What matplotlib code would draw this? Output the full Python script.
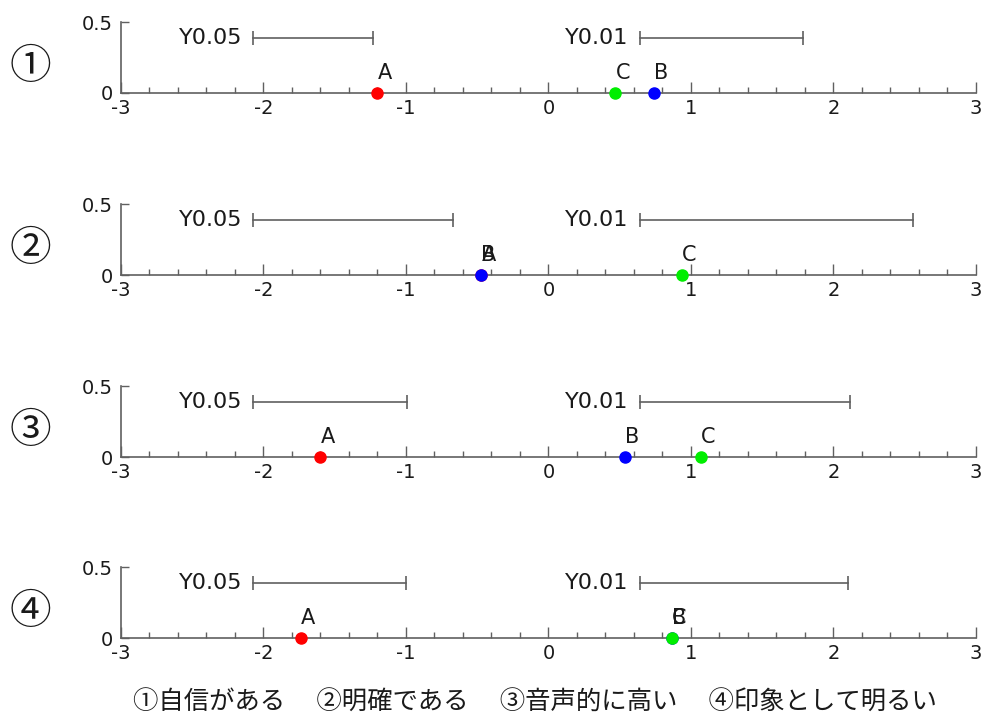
import matplotlib.pyplot as plt
from matplotlib.ticker import MultipleLocator

plt.rcParams['font.family'] = ['DejaVu Sans', 'Noto Sans CJK JP']

# scale positions of each stimulus on the four rating items
items = ['①', '②', '③', '④']
pos_a = [-1.20, -0.47, -1.60, -1.74]
pos_b = [0.74, -0.47, 0.54, 0.87]
pos_c = [0.47, 0.94, 1.07, 0.87]
# yardstick lengths for p < .05 and p < .01
yard_05 = [0.84, 1.40, 1.08, 1.07]
yard_01 = [1.15, 1.92, 1.48, 1.46]
caption = '①自信がある　 ②明確である　 ③音声的に高い　 ④印象として明るい'

fig = plt.figure(figsize=(9.86, 7.22), dpi=100)
axis_gray = '#606060'
text_col = '#1a1a1a'
jp = ['Noto Sans CJK JP', 'DejaVu Sans']

bottoms = [0.8712, 0.619, 0.367, 0.1163]
for i, name in enumerate(items):
    ax = fig.add_axes([0.1227, bottoms[i], 0.867, 0.0983])
    ax.set_xlim(-3, 3)
    ax.set_ylim(0, 0.5)
    for s in ['top', 'right']:
        ax.spines[s].set_visible(False)
    for s in ['left', 'bottom']:
        ax.spines[s].set_color(axis_gray)
        ax.spines[s].set_linewidth(1.2)
    ax.set_yticks([0, 0.5])
    ax.set_yticklabels(['0', '0.5'])
    ax.xaxis.set_minor_locator(MultipleLocator(0.2))
    ax.set_xticks(range(-3, 4))
    ax.set_xticklabels(['-3', '-2', '-1', '0', '1', '2', '3'])
    ax.tick_params(axis='x', which='major', direction='in', length=8, width=1, color=axis_gray,
                   labelsize=14, labelcolor=text_col, pad=4)
    ax.tick_params(axis='x', which='minor', direction='in', length=4, width=1, color=axis_gray)
    ax.tick_params(axis='y', direction='in', length=6, width=1, color=axis_gray,
                   labelsize=14, labelcolor=text_col, pad=6)

    # yardsticks
    for x0, length, lab in [(-2.07, yard_05[i], 'Y0.05'), (0.64, yard_01[i], 'Y0.01')]:
        ax.plot([x0, x0 + length], [0.39, 0.39], color=axis_gray, lw=1.2)
        ax.plot([x0, x0 + length], [0.39, 0.39], color=axis_gray, lw=0,
                marker='|', markersize=10, markeredgewidth=1.2)
        ax.annotate(lab, (x0, 0.39), xytext=(-8, 0), textcoords='offset points',
                    ha='right', va='center', fontsize=16, color=text_col)

    # stimulus points
    for val, lab, col in [(pos_a[i], 'A', '#ff0000'), (pos_b[i], 'B', '#0000ff'),
                          (pos_c[i], 'C', '#00ee00')]:
        ax.plot([val], [0], 'o', color=col, markersize=8, clip_on=False, zorder=5)
        ax.annotate(lab, (val, 0), xytext=(0, 7), textcoords='offset points',
                    ha='left', va='bottom', fontsize=15, color=text_col)

    fig.text(0.031, bottoms[i] + 0.036, name, fontsize=30, ha='center', va='center',
             color=text_col, family=jp)

fig.text(0.543, 0.026, caption, fontsize=18.3, ha='center', va='center', color=text_col,
         family=jp)

fig.savefig('out.png', dpi=100)
